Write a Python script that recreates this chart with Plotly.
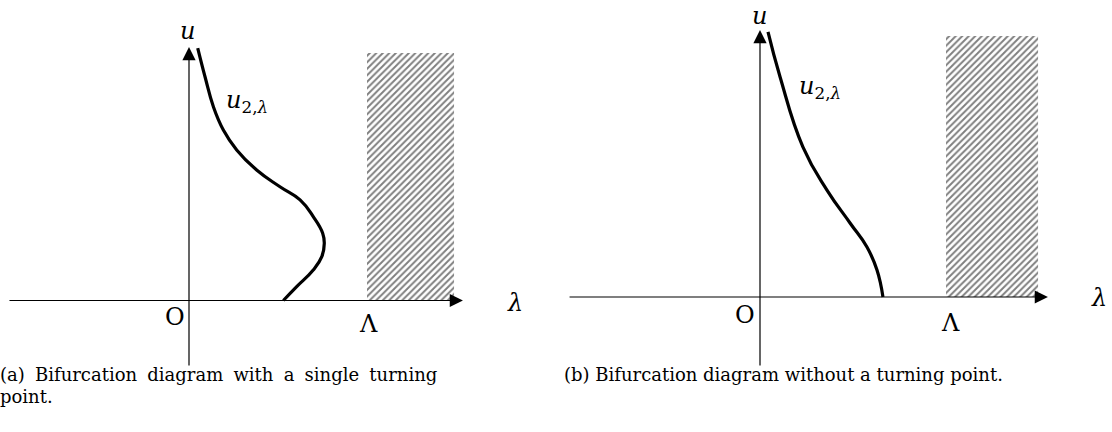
import plotly.graph_objects as go

# ---------------- data (model units: Lambda = 1) ----------------
# Panel (a): bifurcation curve with a single turning point
lam_a = [0.049, 0.090, 0.137, 0.193, 0.268, 0.380, 0.511, 0.624, 0.698, 0.751, 0.760, 0.746, 0.698, 0.605, 0.530]
u_a   = [1.418, 1.257, 1.089, 0.958, 0.846, 0.733, 0.639, 0.565, 0.471, 0.378, 0.321, 0.246, 0.171, 0.078, 0.000]

# Panel (b): bifurcation curve without turning point
lam_b = [0.043, 0.108, 0.231, 0.360, 0.484, 0.575, 0.629, 0.661]
u_b   = [1.425, 1.183, 0.806, 0.575, 0.398, 0.269, 0.145, 0.000]

# Hatched region [Lambda, lam_end] x [0, u_top]
hatch_a = {"lam0": 1.0, "lam1": 1.489, "utop": 1.390}
hatch_b = {"lam0": 1.0, "lam1": 1.495, "utop": 1.403}

# axis extents (lam_min, lam_max, u_min, u_max)
axes_a = [-1.017, 1.539, -0.374, 1.424]
axes_b = [-1.032, 1.548, -0.376, 1.435]

caption_a = ["(a) Bifurcation diagram with a single turning", "point."]
caption_b = ["(b) Bifurcation diagram without a turning point."]

# ---------------- layout geometry (pixels) ----------------
W, H = 1112, 432
panels = [
    dict(ox=189, oy=300.5, s=178, d0=0, d1=556, lam=lam_a, u=u_a, hatch=hatch_a, ax=axes_a,
         lbl_u=(-0.011, 1.515), lbl_O=(-0.080, -0.095), lbl_L=(1.006, -0.130),
         lbl_l=(1.830, -0.012), lbl_c=(0.328, 1.120)),
    dict(ox=760, oy=297, s=186, d0=556, d1=1112, lam=lam_b, u=u_b, hatch=hatch_b, ax=axes_b,
         lbl_u=(-0.005, 1.510), lbl_O=(-0.081, -0.095), lbl_L=(1.022, -0.140),
         lbl_l=(1.823, -0.005), lbl_c=(0.323, 1.125)),
]

fig = go.Figure()
LABEL_FONT = dict(family="DejaVu Serif", size=24, color="black")
CAP_FONT = dict(family="DejaVu Serif", size=18, color="black")
ann = []
for i, p in enumerate(panels):
    xa = "x" if i == 0 else "x2"
    ya = "y" if i == 0 else "y2"
    h = p["hatch"]
    fig.add_trace(go.Scatter(
        x=[h["lam0"], h["lam1"], h["lam1"], h["lam0"], h["lam0"]],
        y=[0, 0, h["utop"], h["utop"], 0],
        fill="toself", mode="lines", line=dict(width=0, color="rgba(0,0,0,0)"),
        fillcolor="white",
        fillpattern=dict(shape="/", size=4.6, solidity=0.42, fgcolor="black", bgcolor="white"),
        xaxis=xa, yaxis=ya, showlegend=False, hoverinfo="skip"))
    fig.add_trace(go.Scatter(
        x=p["lam"], y=p["u"], mode="lines",
        line=dict(color="black", width=3.2, shape="spline", smoothing=1.3),
        xaxis=xa, yaxis=ya, showlegend=False))
    a = p["ax"]
    for (x, y, tx, ty) in [(a[1], 0, a[0], 0), (0, a[3], 0, a[2])]:
        ann.append(dict(x=x, y=y, ax=tx, ay=ty, xref=xa, yref=ya, axref=xa, ayref=ya,
                        text="", showarrow=True, arrowhead=2, arrowsize=2.2, arrowwidth=1.2,
                        arrowcolor="black", standoff=0, startstandoff=0))
    for key, txt in [("lbl_u", "<i>u</i>"), ("lbl_O", "O"), ("lbl_L", "Λ"),
                     ("lbl_l", "<i>λ</i>"), ("lbl_c", "<i>u</i><sub>2,<i>λ</i></sub>")]:
        x, y = p[key]
        ann.append(dict(x=x, y=y, xref=xa, yref=ya, text=txt, showarrow=False,
                        font=LABEL_FONT, xanchor="center", yanchor="middle"))

# line (a) is justified in the original: widen its inter-word spaces
just_a = caption_a[0].replace(" ", " \u2005")
for (txt, px, py) in [(just_a, -2, 374), (caption_a[1], -2, 396), (caption_b[0], 562, 374)]:
    ann.append(dict(x=px / W, y=(H - py) / H, xref="paper", yref="paper", text=txt,
                    showarrow=False, xanchor="left", yanchor="middle", align="left",
                    font=CAP_FONT))

layout = dict(width=W, height=H, margin=dict(l=0, r=0, t=0, b=0), autosize=False,
              plot_bgcolor="white", paper_bgcolor="white", annotations=ann)
for i, p in enumerate(panels):
    sx = "xaxis" if i == 0 else "xaxis2"
    sy = "yaxis" if i == 0 else "yaxis2"
    layout[sx] = dict(domain=[p["d0"] / W, p["d1"] / W],
                      range=[(p["d0"] - p["ox"]) / p["s"], (p["d1"] - p["ox"]) / p["s"]],
                      visible=False, fixedrange=True)
    layout[sy] = dict(domain=[0, 1], range=[(p["oy"] - H) / p["s"], p["oy"] / p["s"]],
                      visible=False, fixedrange=True)
    if i == 1:
        layout[sx]["anchor"] = "y2"
        layout[sy]["anchor"] = "x2"
fig.update_layout(**layout)
fig.write_html("out.html", config={"displayModeBar": False},
               post_script="document.body.style.margin='0';document.body.style.overflow='hidden';")
